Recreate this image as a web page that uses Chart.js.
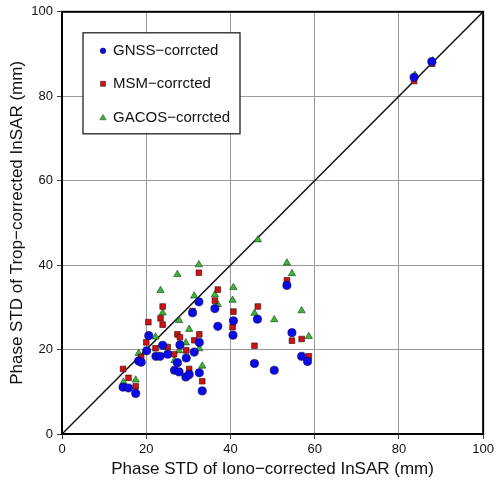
<!DOCTYPE html>
<html><head><meta charset="utf-8">
<script src="https://cdn.jsdelivr.net/npm/chart.js@4/dist/chart.umd.min.js"></script>
<style>html,body{margin:0;padding:0;background:#fff;}canvas{display:block;}</style>
</head><body>
<canvas id="c" width="497" height="486"></canvas>
<script>
const seriesLabels = ['GNSS\u2212corrcted', 'MSM\u2212corrcted', 'GACOS\u2212corrcted'];
const xTitle = 'Phase STD of Iono\u2212corrected InSAR (mm)';
const yTitle = 'Phase STD of Trop\u2212corrected InSAR (mm)';
const tickValues = [0, 20, 40, 60, 80, 100];

const gnssX = [32.5,31.0,20.6,20.1,23.9,28.0,32.6,31.4,18.2,18.8,22.3,23.3,25.1,29.5,27.4,26.7,27.8,29.4,30.2,32.6,33.3,14.5,15.8,17.5,53.4,36.3,37.0,40.7,40.6,46.4,54.6,56.9,58.3,45.7,50.4,83.6,87.8];
const gnssY = [31.3,28.7,23.3,19.7,21.0,21.1,21.7,19.4,17.3,17.0,18.4,18.4,18.9,18.0,16.9,15.1,14.7,13.5,14.1,14.5,10.2,11.1,10.9,9.6,35.2,29.7,25.5,26.8,23.4,27.2,24.0,18.4,17.2,16.7,15.1,84.5,88.2];

const msmX = [32.5,23.9,23.4,23.9,20.5,20.0,27.4,28.0,31.0,32.6,31.4,22.2,25.1,18.8,29.5,26.6,14.5,15.8,17.5,30.2,33.3,37.0,36.3,53.4,46.5,40.7,40.5,45.7,54.6,56.9,58.6,83.6,87.9];
const msmY = [38.2,30.2,27.4,25.9,26.5,21.7,23.6,22.9,29.1,23.6,22.2,20.3,20.6,18.2,19.8,18.9,15.4,13.3,11.3,15.4,12.5,34.2,31.6,36.4,30.2,29.0,25.3,20.9,22.1,22.5,18.4,83.6,87.7];

const gacosX = [32.5,27.4,23.4,23.9,31.4,27.8,30.2,22.2,29.4,32.6,27.8,18.2,26.7,33.3,14.6,17.5,46.5,53.4,54.6,36.3,37.0,40.7,40.5,45.7,50.4,56.9,58.6,83.8,88.0];
const gacosY = [40.1,37.8,34.0,28.7,32.7,26.9,24.8,23.0,21.6,20.2,19.7,19.1,17.4,16.1,12.3,12.8,46.0,40.5,38.0,33.0,30.7,34.7,31.7,28.6,27.1,29.2,23.1,85.0,88.4];

const oneToOneX = [0, 100];
const oneToOneY = [0, 100];

const pts = (xs, ys) => xs.map((x, i) => ({x: x, y: ys[i]}));

const legendPlugin = {
  id: 'boxLegend',
  afterDraw(chart) {
    const ctx = chart.ctx, a = chart.chartArea;
    ctx.save();
    ctx.strokeStyle = '#000';
    ctx.lineWidth = 2;
    ctx.strokeRect(a.left, a.top, a.right - a.left, a.bottom - a.top);
    const bx = a.left + 21, by = a.top + 21, bw = 157, bh = 101;
    ctx.fillStyle = '#fff';
    ctx.fillRect(bx, by, bw, bh);
    ctx.strokeStyle = '#222';
    ctx.lineWidth = 1.3;
    ctx.strokeRect(bx, by, bw, bh);
    const rows = [by + 18, by + 51, by + 85];
    ctx.font = '15px "Liberation Sans", Arial, sans-serif';
    ctx.textBaseline = 'middle';
    ctx.textAlign = 'left';
    chart.data.datasets.slice(0, 3).forEach((ds, i) => {
      const y = rows[i], mx = bx + 20;
      ctx.fillStyle = ds.backgroundColor;
      ctx.strokeStyle = ds.borderColor;
      ctx.lineWidth = 0.5;
      ctx.beginPath();
      if (ds.pointStyle === 'circle') {
        ctx.arc(mx, y, 2.8, 0, Math.PI * 2);
      } else if (ds.pointStyle === 'rect') {
        ctx.rect(mx - 2.5, y - 2.5, 5, 5);
      } else {
        ctx.moveTo(mx, y - 3.3); ctx.lineTo(mx + 3.1, y + 2); ctx.lineTo(mx - 3.1, y + 2); ctx.closePath();
      }
      ctx.fill(); ctx.stroke();
      ctx.fillStyle = '#111';
      ctx.fillText(ds.label, bx + 30, y);
    });
    ctx.restore();
  }
};

new Chart(document.getElementById('c'), {
  type: 'scatter',
  data: {
    datasets: [
      {label: seriesLabels[0], data: pts(gnssX, gnssY), pointStyle: 'circle', pointRadius: 4.1,
       backgroundColor: '#0a0ae6', borderColor: '#000050', borderWidth: 0.6},
      {label: seriesLabels[1], data: pts(msmX, msmY), pointStyle: 'rect', pointRadius: 4.0,
       backgroundColor: '#c81414', borderColor: '#400000', borderWidth: 0.6},
      {label: seriesLabels[2], data: pts(gacosX, gacosY), pointStyle: 'triangle', pointRadius: 4.2,
       backgroundColor: '#3cb43c', borderColor: '#104010', borderWidth: 0.6},
      {label: '1:1', type: 'line', data: pts(oneToOneX, oneToOneY), showLine: true, pointRadius: 0,
       borderColor: '#111', borderWidth: 1.5, fill: false}
    ]
  },
  options: {
    responsive: false,
    animation: false,
    layout: {padding: {left: 0, right: 11, top: 11, bottom: 0}},
    plugins: {legend: {display: false}, tooltip: {enabled: false}},
    scales: {
      x: {
        type: 'linear', min: 0, max: 100,
        afterBuildTicks: s => { s.ticks = tickValues.map(v => ({value: v})); },
        afterFit: s => { s.height = 52; },
        grid: {color: '#9a9a9a', lineWidth: 1, tickLength: 5, tickColor: '#444'},
        border: {display: false},
        ticks: {color: '#111', font: {family: '"Liberation Sans", Arial, sans-serif', size: 13}, padding: 3, maxRotation: 0},
        title: {display: true, text: xTitle, color: '#111',
                font: {family: '"Liberation Sans", Arial, sans-serif', size: 17}, padding: {top: 0, bottom: 6}}
      },
      y: {
        type: 'linear', min: 0, max: 100,
        afterBuildTicks: s => { s.ticks = tickValues.map(v => ({value: v})); },
        afterFit: s => { s.width = 62; },
        grid: {color: '#9a9a9a', lineWidth: 1, tickLength: 5, tickColor: '#444'},
        border: {display: false},
        ticks: {color: '#111', font: {family: '"Liberation Sans", Arial, sans-serif', size: 13}, padding: 4},
        title: {display: true, text: yTitle, color: '#111',
                font: {family: '"Liberation Sans", Arial, sans-serif', size: 17}, padding: {top: 7, bottom: 0}}
      }
    }
  },
  plugins: [legendPlugin]
});
</script>
</body></html>
